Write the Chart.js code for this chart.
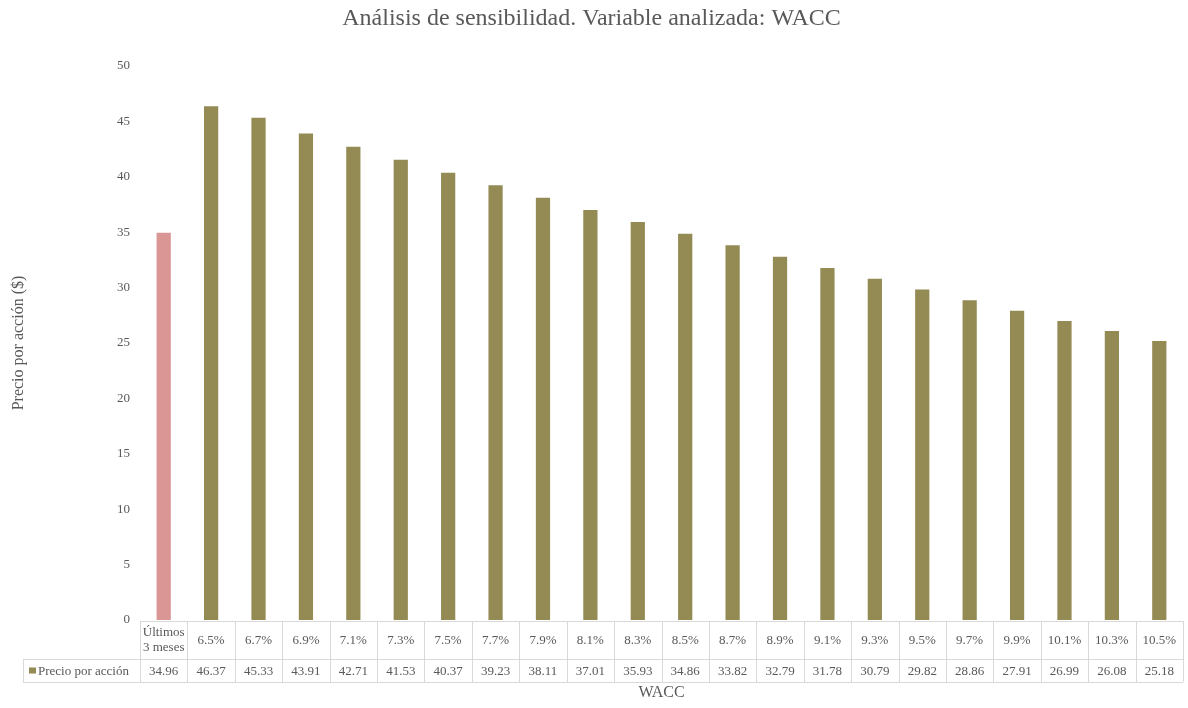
<!DOCTYPE html>
<html>
<head>
<meta charset="utf-8">
<script src="https://cdn.jsdelivr.net/npm/chart.js@4/dist/chart.umd.min.js"></script>
<style>
  html, body { margin: 0; padding: 0; background: #ffffff; }
  #wrap { width: 1188px; height: 708px; }
</style>
</head>
<body>
<div id="wrap"><canvas id="c" width="1188" height="708"></canvas></div>
<script>
// Escenarios de WACC (la primera columna es la referencia de mercado)
const categories = [['Últimos', '3 meses'], '6.5%', '6.7%', '6.9%', '7.1%', '7.3%', '7.5%', '7.7%',
  '7.9%', '8.1%', '8.3%', '8.5%', '8.7%', '8.9%', '9.1%', '9.3%', '9.5%', '9.7%', '9.9%',
  '10.1%', '10.3%', '10.5%'];
// Precio por acción ($) para cada escenario
const precioPorAccion = [34.96, 46.37, 45.33, 43.91, 42.71, 41.53, 40.37, 39.23, 38.11, 37.01,
  35.93, 34.86, 33.82, 32.79, 31.78, 30.79, 29.82, 28.86, 27.91, 26.99, 26.08, 25.18];
const yTicks = [0, 5, 10, 15, 20, 25, 30, 35, 40, 45, 50];

const seriesName = 'Precio por acción';
const olive = '#948A54';
const pink = '#D99694';
const textGrey = '#595959';
const gridGrey = '#d9d9d9';
const serif = '"Liberation Serif", "Times New Roman", serif';

const barColors = precioPorAccion.map((v, i) => i === 0 ? pink : olive);

// Tabla de datos bajo el eje X (etiquetas + valores), alineada con la escala de categorías
const dataTablePlugin = {
  id: 'dataTable',
  afterDraw(chart) {
    const ctx = chart.ctx;
    const x = chart.scales.x;
    const area = chart.chartArea;
    const top = area.bottom + 1;
    const mid = top + 38;
    const bottom = mid + 23;
    const legendLeft = 23;
    const n = categories.length;
    const step = (area.right - area.left) / n;

    ctx.save();
    ctx.strokeStyle = gridGrey;
    ctx.lineWidth = 1;
    ctx.beginPath();
    // horizontal lines
    ctx.moveTo(area.left, top + 0.5); ctx.lineTo(area.right, top + 0.5);
    ctx.moveTo(legendLeft, mid + 0.5); ctx.lineTo(area.right, mid + 0.5);
    ctx.moveTo(legendLeft, bottom + 0.5); ctx.lineTo(area.right, bottom + 0.5);
    // vertical lines
    for (let i = 0; i <= n; i++) {
      const xx = Math.round(area.left + i * step) + 0.5;
      ctx.moveTo(xx, top); ctx.lineTo(xx, bottom);
    }
    ctx.moveTo(legendLeft + 0.5, mid); ctx.lineTo(legendLeft + 0.5, bottom);
    ctx.stroke();

    ctx.fillStyle = textGrey;
    ctx.font = '13px ' + serif;
    ctx.textAlign = 'center';
    ctx.textBaseline = 'middle';
    categories.forEach((lab, i) => {
      const cx = x.getPixelForValue(i);
      if (Array.isArray(lab)) {
        ctx.fillText(lab[0], cx, top + 12);
        ctx.fillText(lab[1], cx, top + 27);
      } else {
        ctx.fillText(lab, cx, (top + mid) / 2 + 1);
      }
      ctx.fillText(precioPorAccion[i].toFixed(2), cx, (mid + bottom) / 2 + 1);
    });

    // legend key
    ctx.fillStyle = olive;
    ctx.fillRect(29, (mid + bottom) / 2 - 3, 7, 6);
    ctx.fillStyle = textGrey;
    ctx.textAlign = 'left';
    ctx.fillText(seriesName, 38, (mid + bottom) / 2 + 1);

    // x axis title
    ctx.font = '16px ' + serif;
    ctx.textAlign = 'center';
    ctx.fillText('WACC', (area.left + area.right) / 2, bottom + 11);
    ctx.restore();
  }
};

new Chart(document.getElementById('c'), {
  type: 'bar',
  data: {
    labels: categories,
    datasets: [{
      label: seriesName,
      data: precioPorAccion,
      backgroundColor: barColors,
      borderWidth: 0,
      categoryPercentage: 1.0,
      barPercentage: 0.3
    }]
  },
  options: {
    responsive: false,
    animation: false,
    layout: { padding: { left: 0, right: 5, top: 0, bottom: 88 } },
    plugins: {
      legend: { display: false },
      tooltip: { enabled: false },
      title: {
        display: true,
        text: 'Análisis de sensibilidad. Variable analizada: WACC',
        color: textGrey,
        font: { family: serif, size: 24, weight: 'normal' },
        padding: { top: 4, bottom: 33.2 }
      }
    },
    scales: {
      x: {
        display: false
      },
      y: {
        min: 0,
        max: 50,
        afterBuildTicks(scale) { scale.ticks = yTicks.map(v => ({ value: v })); },
        afterFit(scale) { scale.width = 140; },
        grid: { display: false, drawTicks: false },
        border: { display: false },
        ticks: {
          color: textGrey,
          font: { family: serif, size: 13 },
          padding: 10
        },
        title: {
          display: true,
          text: 'Precio por acción ($)',
          color: textGrey,
          font: { family: serif, size: 16 },
          padding: { top: 9, bottom: 0 }
        }
      }
    }
  },
  plugins: [dataTablePlugin]
});
</script>
</body>
</html>
